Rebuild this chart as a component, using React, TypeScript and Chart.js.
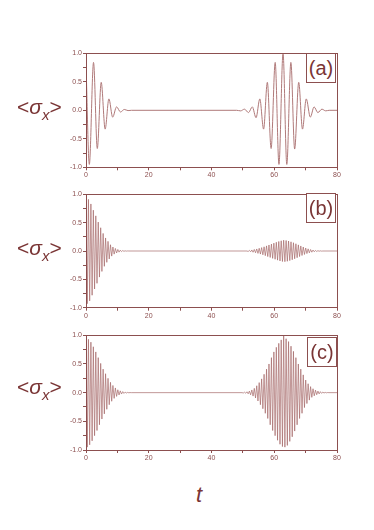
import React, { useEffect, useRef } from "react";
import { Chart, registerables } from "chart.js";
Chart.register(...registerables);

// Panel (a): extrema (time, value)
const T_A = [0, 1.06, 2.4, 3.6, 4.85, 6.1, 7.3, 8.5, 9.75, 11.0, 12.2, 13.4, 14.5, 48.0, 49.3, 50.5, 51.8, 53.0, 54.2, 55.4, 56.6, 57.8, 59.0, 60.3, 61.5, 62.8, 64.0, 65.3, 66.5, 67.8, 69.0, 70.2, 71.5, 72.7, 73.9, 75.2, 76.4, 77.5, 80];
const V_A = [0.8, -0.95, 0.84, -0.67, 0.49, -0.33, 0.2, -0.12, 0.06, -0.03, 0.015, -0.005, 0, 0, -0.01, 0.02, -0.04, 0.06, -0.13, 0.2, -0.33, 0.49, -0.67, 0.84, -0.95, 1.0, -0.95, 0.84, -0.68, 0.49, -0.33, 0.2, -0.12, 0.06, -0.04, 0.02, -0.01, 0, 0];

// Panels (b), (c): successive extrema, spaced by the half-period
const HALF_PERIOD = 0.39;
const X_END = 80;

const B_COLLAPSE_START = 0;
const B_COLLAPSE = [0.85, -0.93, 0.91, -0.88, 0.83, -0.78, 0.72, -0.67, 0.62, -0.57, 0.51, -0.46, 0.41, -0.36, 0.31, -0.27, 0.23, -0.2, 0.17, -0.14, 0.11, -0.09, 0.07, -0.055, 0.045, -0.035, 0.027, -0.02, 0.015, -0.011, 0.008, -0.005, 0.003, -0.002, 0.001];
const B_REVIVAL_START = 51.69;
const B_REVIVAL = [-0.008, 0.011, -0.014, 0.018, -0.022, 0.027, -0.031, 0.036, -0.042, 0.048, -0.054, 0.06, -0.067, 0.074, -0.082, 0.09, -0.098, 0.106, -0.114, 0.122, -0.13, 0.138, -0.146, 0.154, -0.161, 0.168, -0.175, 0.18, -0.185, 0.19, -0.188, 0.185, -0.181, 0.176, -0.169, 0.162, -0.154, 0.146, -0.137, 0.128, -0.118, 0.108, -0.098, 0.089, -0.079, 0.07, -0.061, 0.053, -0.045, 0.038, -0.032, 0.026, -0.021, 0.017, -0.013, 0.01, -0.008, 0.006, -0.004, 0.003, -0.002];

const C_COLLAPSE_START = 0;
const C_COLLAPSE = [0.9, -0.95, 0.93, -0.91, 0.88, -0.84, 0.8, -0.75, 0.71, -0.66, 0.61, -0.56, 0.51, -0.46, 0.41, -0.37, 0.33, -0.29, 0.25, -0.21, 0.18, -0.15, 0.125, -0.1, 0.082, -0.065, 0.05, -0.04, 0.031, -0.024, 0.018, -0.013, 0.009, -0.006, 0.004, -0.002, 0.001];
const C_REVIVAL_START = 50.13;
const C_REVIVAL = [-0.006, 0.008, -0.01, 0.015, -0.02, 0.027, -0.037, 0.047, -0.06, 0.075, -0.092, 0.12, -0.145, 0.175, -0.21, 0.24, -0.28, 0.32, -0.36, 0.41, -0.45, 0.5, -0.56, 0.61, -0.66, 0.71, -0.75, 0.79, -0.83, 0.86, -0.9, 0.92, -0.94, 0.99, -0.95, 0.94, -0.92, 0.89, -0.85, 0.81, -0.77, 0.72, -0.67, 0.61, -0.56, 0.5, -0.45, 0.41, -0.36, 0.31, -0.26, 0.22, -0.19, 0.155, -0.13, 0.105, -0.082, 0.068, -0.055, 0.044, -0.036, 0.027, -0.022, 0.017, -0.012, 0.009, -0.006, 0.004, -0.003, 0.002];

const X_TICK_LABELS = [0, 20, 40, 60, 80];
const Y_TICK_LABELS = [-1, -0.5, 0, 0.5, 1];

const AXIS = "#8c4f4f";
const TEXT = "#7a3535";
const LINE_A = "#b07a7a";
const LINE_DENSE = "#a66a6a";

type Pt = { x: number; y: number };

function buildDense(cStart: number, col: number[], rStart: number, rev: number[]): Pt[] {
  const pts: Pt[] = [];
  col.forEach((v, i) => pts.push({ x: cStart + i * HALF_PERIOD, y: v }));
  pts.push({ x: cStart + col.length * HALF_PERIOD, y: 0 });
  pts.push({ x: rStart - HALF_PERIOD, y: 0 });
  rev.forEach((v, i) => pts.push({ x: rStart + i * HALF_PERIOD, y: v }));
  pts.push({ x: rStart + rev.length * HALF_PERIOD, y: 0 });
  pts.push({ x: X_END, y: 0 });
  return pts;
}

const frame = {
  id: "frame",
  afterDraw(chart: any) {
    const { ctx, chartArea } = chart;
    ctx.save();
    ctx.strokeStyle = AXIS;
    ctx.lineWidth = 1;
    ctx.strokeRect(Math.round(chartArea.left) + 0.5, Math.round(chartArea.top) + 0.5,
      Math.round(chartArea.right - chartArea.left), Math.round(chartArea.bottom - chartArea.top));
    ctx.restore();
  },
};

type PanelProps = {
  canvasTop: number; canvasH: number; chartTop: number; chartBottom: number;
  points: Pt[]; smooth: boolean; color: string; width: number;
};

function Panel({ canvasTop, canvasH, chartTop, chartBottom, points, smooth, color, width }: PanelProps) {
  const ref = useRef<HTMLCanvasElement>(null);
  useEffect(() => {
    const chart = new Chart(ref.current!, {
      type: "line",
      data: {
        datasets: [{
          data: points,
          borderColor: color,
          borderWidth: width,
          pointRadius: 0,
          fill: false,
          cubicInterpolationMode: smooth ? "monotone" : "default",
          tension: 0,
        } as any],
      },
      options: {
        animation: false,
        responsive: false,
        devicePixelRatio: 1,
        layout: { padding: { left: 0, right: 374 - 337, top: chartTop - canvasTop, bottom: 0 } },
        plugins: { legend: { display: false }, tooltip: { enabled: false } },
        scales: {
          x: {
            type: "linear", min: 0, max: X_END,
            afterFit: (s: any) => { s.height = canvasTop + canvasH - chartBottom; },
            ticks: {
              stepSize: 10, autoSkip: false, maxRotation: 0, padding: 1, color: AXIS,
              font: { family: "Liberation Sans, Arial, sans-serif", size: 7 },
              callback: (v: any) => (X_TICK_LABELS.includes(Number(v)) ? String(v) : ""),
            },
            grid: { drawOnChartArea: false, drawTicks: true, tickLength: 3, color: AXIS },
            border: { display: true, color: AXIS },
          },
          y: {
            min: -1, max: 1,
            afterFit: (s: any) => { s.width = 86; },
            ticks: {
              stepSize: 0.25, autoSkip: false, padding: 1, color: AXIS,
              font: { family: "Liberation Sans, Arial, sans-serif", size: 7 },
              callback: (v: any) => {
                const n = Number(v);
                return Y_TICK_LABELS.some((t) => Math.abs(t - n) < 1e-6) ? n.toFixed(1) : "";
              },
            },
            grid: { drawOnChartArea: false, drawTicks: true, tickLength: 3, color: AXIS },
            border: { display: true, color: AXIS },
          },
        },
      },
      plugins: [frame],
    });
    return () => chart.destroy();
  }, []);
  return (
    <canvas ref={ref} width={374} height={canvasH}
      style={{ position: "absolute", left: 0, top: canvasTop, width: 374, height: canvasH }} />
  );
}

function YTitle({ zeroY }: { zeroY: number }) {
  return (
    <div style={{
      position: "absolute", left: 17, top: zeroY - 15, color: TEXT, whiteSpace: "nowrap",
      fontFamily: "Liberation Sans, Arial, sans-serif", fontSize: 21, lineHeight: "24px",
    }}>
      &lt;<span style={{ fontStyle: "italic" }}>σ</span>
      <sub style={{ fontStyle: "italic", fontSize: 15, verticalAlign: "-6px" }}>x</sub>&gt;
    </div>
  );
}

function Tag({ left, top, text }: { left: number; top: number; text: string }) {
  return (
    <div style={{
      position: "absolute", left, top, width: 28, height: 28, border: `1px solid ${AXIS}`,
      color: TEXT, fontFamily: "Liberation Sans, Arial, sans-serif", fontSize: 20,
      lineHeight: "28px", textAlign: "center", background: "#fff",
    }}>{text}</div>
  );
}

export default function App() {
  const ptsA: Pt[] = T_A.map((t, i) => ({ x: t, y: V_A[i] }));
  const ptsB = buildDense(B_COLLAPSE_START, B_COLLAPSE, B_REVIVAL_START, B_REVIVAL);
  const ptsC = buildDense(C_COLLAPSE_START, C_COLLAPSE, C_REVIVAL_START, C_REVIVAL);
  return (
    <div style={{ position: "fixed", left: 0, top: 0, width: 374, height: 530, background: "#fff" }}>
      <Panel canvasTop={40} canvasH={145} chartTop={53.3} chartBottom={167.3} points={ptsA} smooth={true} color={LINE_A} width={1} />
      <Panel canvasTop={185} canvasH={140} chartTop={194.3} chartBottom={307.7} points={ptsB} smooth={false} color={LINE_DENSE} width={0.7} />
      <Panel canvasTop={325} canvasH={140} chartTop={335.3} chartBottom={450} points={ptsC} smooth={false} color={LINE_DENSE} width={0.7} />
      <Tag left={306} top={53} text="(a)" />
      <Tag left={306} top={193} text="(b)" />
      <Tag left={307} top={337} text="(c)" />
      <YTitle zeroY={110} />
      <YTitle zeroY={251} />
      <YTitle zeroY={390} />
      <div style={{
        position: "absolute", left: 196, top: 482, color: TEXT, fontStyle: "italic",
        fontFamily: "Liberation Sans, Arial, sans-serif", fontSize: 22,
      }}>t</div>
    </div>
  );
}
